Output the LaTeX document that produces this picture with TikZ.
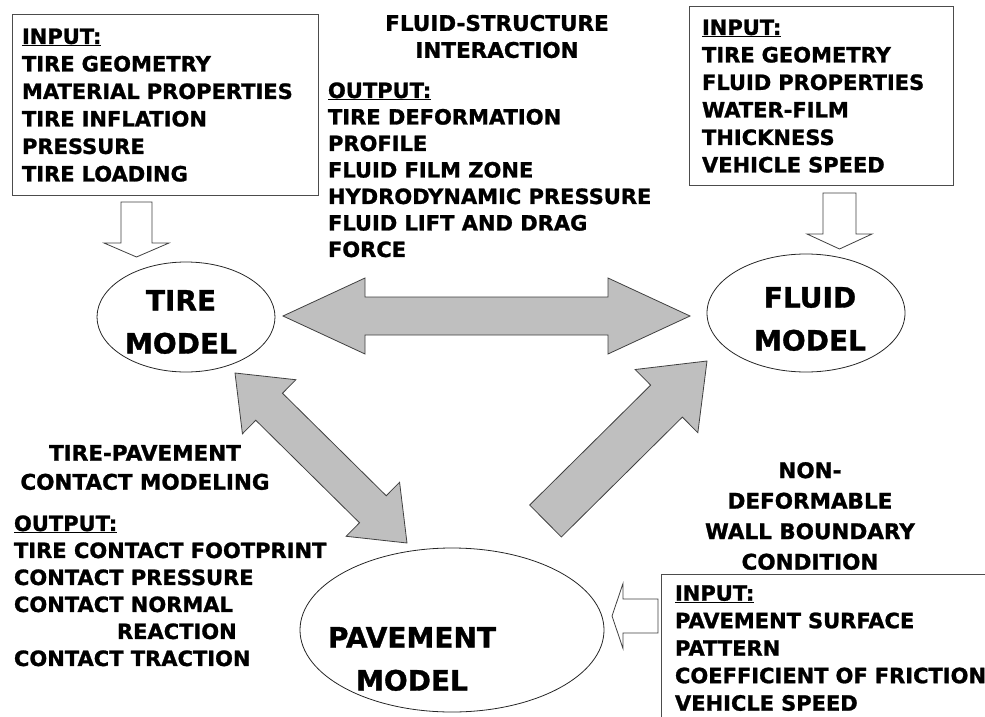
\documentclass[tikz,border=0pt]{standalone}
\usepackage{fontspec}
\setmainfont{DejaVu Sans}[BoldFeatures={FakeBold=1.2}]
\usepackage{tikz}
\tikzset{
  every node/.style = {
    inner sep = 0pt,
    outer sep = 0pt
  }
}
\usetikzlibrary{
calc,
shapes.geometric
}
% block arrows: [style]{tail}{tip}{shaft half}{head half}{head length}
\newcommand\blockarrow[6][bigarrow]{%
  \draw[#1] ($(#2)!#4!90:(#3)$)
    -- ($(#3)!#6!(#2)!#4!-90:(#2)$)
    -- ($(#3)!#6!(#2)!#5!-90:(#2)$)
    -- (#3)
    -- ($(#3)!#6!(#2)!#5!90:(#2)$)
    -- ($(#3)!#6!(#2)!#4!90:(#2)$)
    -- ($(#2)!#4!-90:(#3)$)
    -- cycle;}
\newcommand\dblblockarrow[6][bigarrow]{%
  \draw[#1] (#2)
    -- ($(#2)!#6!(#3)!#5!90:(#3)$)
    -- ($(#2)!#6!(#3)!#4!90:(#3)$)
    -- ($(#3)!#6!(#2)!#4!-90:(#2)$)
    -- ($(#3)!#6!(#2)!#5!-90:(#2)$)
    -- (#3)
    -- ($(#3)!#6!(#2)!#5!90:(#2)$)
    -- ($(#3)!#6!(#2)!#4!90:(#2)$)
    -- ($(#2)!#6!(#3)!#4!-90:(#3)$)
    -- ($(#2)!#6!(#3)!#5!-90:(#3)$)
    -- cycle;}

\begin{document}
\begin{tikzpicture}[
      x=1pt, y=-1pt,
      txt/.style={
        font=\fontsize{21}{#1}\selectfont\bfseries,
        align=left,
      },
      txt/.default=27.5,
      ttl/.style={
        font=\fontsize{21.5}{#1}\selectfont\bfseries,
        align=center,
      },
      ttl/.default=28,
      inbox/.style={
        txt,
        draw=black!70,
        line width=1pt,
        anchor=north west,
      },
      model/.style={
        ellipse,
        draw=black!85,
        line width=0.8pt,
      },
      modeltxt/.style={
        font=\fontsize{28}{43}\selectfont\bfseries,
        align=center,
      },
      bigarrow/.style={
        draw=black!75,
        fill=black!25,
        line width=0.8pt,
        line join=miter,
      },
      smallarrow/.style={
        draw=black!75,
        fill=white,
        line width=0.8pt,
        line join=miter,
      },
      ]
      \useasboundingbox (0,0) rectangle (985,717);

      % models
      \node [model, minimum width=178, minimum height=110] (tire) at (186,317) {};
      \node [model, minimum width=198, minimum height=118] (fluid) at (806,313) {};
      \node [model, minimum width=304, minimum height=164] (pave) at (452,630) {};
      \node [modeltxt] (tiretxt) at (181,322) {TIRE\\MODEL};
      \node [modeltxt] (fluidtxt) at (810,319) {FLUID\\MODEL};
      \node [modeltxt] (pavetxt) at (412,659) {PAVEMENT\\MODEL};

      % inputs
      \node [inbox, text width=286, inner xsep=10, inner ysep=13.6] (tirein) at (12,15)
      {\underline{INPUT:}\\TIRE GEOMETRY\\MATERIAL PROPERTIES\\TIRE INFLATION\\PRESSURE\\TIRE LOADING};
      \node [inbox, text width=238, inner xsep=13, inner ysep=12.6] (fluidin) at (689,7)
      {\underline{INPUT:}\\TIRE GEOMETRY\\FLUID PROPERTIES\\WATER-FILM\\THICKNESS\\VEHICLE SPEED};
      \node [inbox, text width=340, inner xsep=14, inner ysep=11.35] (pavein) at (661,574)
      {\underline{INPUT:}\\PAVEMENT SURFACE\\PATTERN\\COEFFICIENT OF FRICTION\\VEHICLE SPEED};

      % interactions
      \node [ttl=27] (fsi) at (497,36.5) {FLUID-STRUCTURE\\INTERACTION};
      \node [txt=26.5, anchor=north west] (fsiout) at (328,82.4)
      {\underline{OUTPUT:}\\TIRE DEFORMATION\\PROFILE\\FLUID FILM ZONE\\HYDRODYNAMIC PRESSURE\\FLUID LIFT AND DRAG\\FORCE};
      \node [ttl=29] (tpc) at (145,467.5) {TIRE-PAVEMENT\\CONTACT MODELING};
      \node [txt=27, anchor=north west] (tpcout) at (14,515.4)
      {\underline{OUTPUT:}\\TIRE CONTACT FOOTPRINT\\CONTACT PRESSURE\\CONTACT NORMAL\\\hspace*{103pt}REACTION\\CONTACT TRACTION};
      \node [ttl=30.5] (wall) at (810,516) {NON-\\DEFORMABLE\\WALL BOUNDARY\\CONDITION};

      % arrows
      \coordinate (fsiL) at (283,316);
      \coordinate (fsiR) at (690,316);
      \coordinate (tpcT) at (235,373);
      \coordinate (tpcB) at (407,543);
      \coordinate (wallA) at (545.5,521);
      \coordinate (wallB) at (707,361);
      \coordinate (tireinA) at (136.5,202);
      \coordinate (tireinB) at (136.5,257);
      \coordinate (fluidinA) at (839.5,193);
      \coordinate (fluidinB) at (839.5,249);
      \coordinate (paveinA) at (658,616);
      \coordinate (paveinB) at (612,616);

      \dblblockarrow{fsiL}{fsiR}{19pt}{38pt}{82pt}
      \dblblockarrow{tpcT}{tpcB}{19pt}{38pt}{48pt}
      \blockarrow{wallA}{wallB}{22.5pt}{44.5pt}{57pt}
      \blockarrow[smallarrow]{tireinA}{tireinB}{15.5pt}{32.5pt}{14pt}
      \blockarrow[smallarrow]{fluidinA}{fluidinB}{16.5pt}{32.5pt}{15pt}
      \blockarrow[smallarrow]{paveinA}{paveinB}{17pt}{32.5pt}{11pt}
    \end{tikzpicture}
\end{document}
